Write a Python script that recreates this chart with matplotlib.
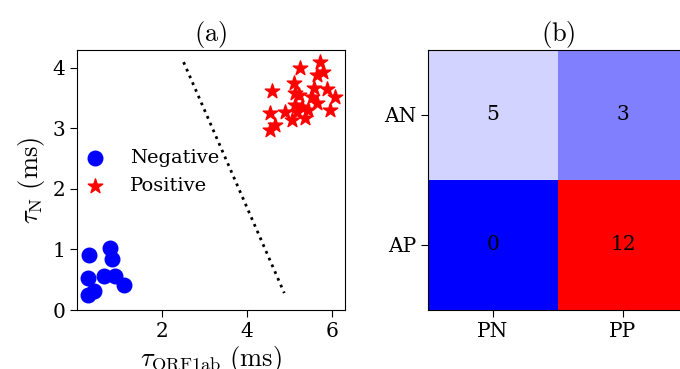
"""Scatter of tau values and confusion matrix, two panels."""

import matplotlib

matplotlib.use("Agg")
import matplotlib.pyplot as plt
import numpy as np

plt.rcParams["font.family"] = "DejaVu Serif"
plt.rcParams["mathtext.fontset"] = "cm"

# panel (a): negative samples
neg_x = [0.29, 0.77, 0.83, 0.27, 0.63, 0.90, 1.11, 0.39, 0.25]
neg_y = [0.90, 1.02, 0.84, 0.53, 0.56, 0.56, 0.42, 0.32, 0.24]

# panel (a): positive samples
pos_x = [5.71, 5.25, 5.65, 5.80, 5.10, 4.59, 5.14, 5.57, 5.88, 6.08, 5.14, 5.65,
         4.90, 4.55, 5.18, 5.45, 5.96, 5.06, 5.37, 4.67, 4.55, 5.29, 5.22, 5.53]
pos_y = [4.10, 3.99, 3.88, 3.92, 3.74, 3.62, 3.58, 3.66, 3.64, 3.52, 3.38, 3.41,
         3.27, 3.25, 3.27, 3.30, 3.30, 3.14, 3.16, 3.05, 2.97, 3.35, 3.55, 3.52]

# separating line end points
line_x = [2.51, 4.88]
line_y = [4.09, 0.28]

# panel (b): confusion matrix
row_labels = ["AN", "AP"]
col_labels = ["PN", "PP"]
counts = np.array([[5, 3],
                   [0, 12]])

fig = plt.figure(figsize=(6.8, 3.69), dpi=100)

ax = fig.add_axes([77 / 680, 59 / 369, 268 / 680, 260 / 369])
ax.scatter(neg_x, neg_y, s=110, color="blue", marker="o", label="Negative")
ax.scatter(pos_x, pos_y, s=120, color="red", marker="*", label="Positive")
ax.plot(line_x, line_y, color="black", linestyle=":", linewidth=2.0)
ax.set_xlim(0.0, 6.31)
ax.set_ylim(0.0, 4.29)
ax.set_xticks([2, 4, 6])
ax.set_yticks([0, 1, 2, 3, 4])
ax.tick_params(labelsize=14.5, length=5)
ax.set_xlabel(r"$\tau_{\rm ORF1ab}\ \rm (ms)$", fontsize=19, labelpad=2)
ax.set_ylabel(r"$\tau_{\rm N}\ \rm (ms)$", fontsize=19, labelpad=4)
ax.set_title(r"$\rm (a)$", fontsize=19)
ax.legend(loc="center left", bbox_to_anchor=(0.0, 0.53), frameon=False,
          fontsize=14, handlelength=1.0, handletextpad=1.33, borderaxespad=0.0,
          labelspacing=0.5)

bx = fig.add_axes([428 / 680, 59 / 369, 260 / 680, 260 / 369])
bx.imshow(counts, cmap="bwr", vmin=0, vmax=12, aspect="auto")
for i in range(counts.shape[0]):
    for j in range(counts.shape[1]):
        bx.text(j, i, str(counts[i, j]), ha="center", va="center", fontsize=14.5)
bx.set_xticks(range(len(col_labels)))
bx.set_xticklabels(col_labels)
bx.set_yticks(range(len(row_labels)))
bx.set_yticklabels(row_labels)
bx.tick_params(labelsize=14.5, length=5)
bx.set_title(r"$\rm (b)$", fontsize=19)

fig.savefig("out.png", dpi=100)
